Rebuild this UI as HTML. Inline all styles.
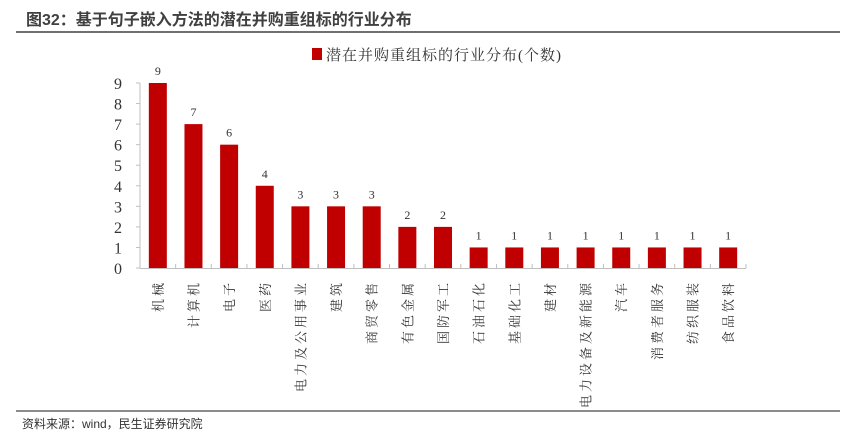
<!DOCTYPE html>
<html><head><meta charset="utf-8"><style>
body{margin:0;background:#fff;width:856px;height:433px;overflow:hidden}
svg{display:block}
</style></head><body>
<svg width="856" height="433" viewBox="0 0 856 433" xmlns="http://www.w3.org/2000/svg">
<text x="26" y="25" font-family="Liberation Sans, Noto Sans CJK SC, sans-serif" font-size="16" font-weight="bold" fill="#404040">图32：基于句子嵌入方法的潜在并购重组标的行业分布</text>
<line x1="16" y1="32" x2="840" y2="32" stroke="#404040" stroke-width="1.5"/>
<g>
<rect x="312" y="48" width="10" height="12" fill="#c00000"/>
<text x="326" y="60" font-family="Liberation Serif, Noto Serif CJK SC, serif" font-size="15" letter-spacing="1" fill="#333">潜在并购重组标的行业分布(个数)</text>
</g>
<g id="axes"></g>
<g id="bars"></g>
<line x1="16" y1="411" x2="840" y2="411" stroke="#666" stroke-width="1.5"/>
<text x="22" y="428" font-family="Liberation Sans, Noto Sans CJK SC, sans-serif" font-size="12" fill="#333">资料来源：wind，民生证券研究院</text>
</svg>
<script>
const categories=["机械","计算机","电子","医药","电力及公用事业","建筑","商贸零售","有色金属","国防军工","石油石化","基础化工","建材","电力设备及新能源","汽车","消费者服务","纺织服装","食品饮料"];
const values=[9,7,6,4,3,3,3,2,2,1,1,1,1,1,1,1,1];
const yTicks=[0,1,2,3,4,5,6,7,8,9];
const NS="http://www.w3.org/2000/svg";
const x0=140,x1=746,y0=268,yTop=83,yMax=9;
const step=(x1-x0)/categories.length;
const y=v=>y0-(y0-yTop)*v/yMax;
const xc=i=>x0+step*(i+0.5);
const ax=document.getElementById('axes'),bg=document.getElementById('bars');
function mk(tag,a,p){const e=document.createElementNS(NS,tag);for(const k in a)e.setAttribute(k,a[k]);p.appendChild(e);return e;}
const yl=mk('line',{x1:x0,y1:y(9),x2:x0,y2:y0,stroke:'#bfbfbf'},ax);


const xl=mk('line',{x1:x0,y1:y0+0.5,x2:x1,y2:y0+0.5,stroke:'#bfbfbf'},ax);


yTicks.forEach(t=>{
 const tk=mk('line',{x1:x0-4,y1:y(t),x2:x0,y2:y(t),stroke:'#bfbfbf'},ax);
 
 
 const tx=mk('text',{x:122,y:y(t)+6,'text-anchor':'end','font-family':'Liberation Serif, serif','font-size':'16',fill:'#333'},ax);
 tx.textContent=t;
 
 
});
for(let i=0;i<=categories.length;i++){
 const tk=mk('line',{x1:x0+step*i,y1:y0-4,x2:x0+step*i,y2:y0,stroke:'#bfbfbf'},ax);
 
 
}
categories.forEach((c,i)=>{
 const bw=18;
 const r=mk('rect',{x:xc(i)-bw/2,y:y(values[i]),width:bw,height:y0-y(values[i]),fill:'#c00000'},bg);
 
 
 const v=mk('text',{x:xc(i),y:y(values[i])-8,'text-anchor':'middle','font-family':'Liberation Serif, serif','font-size':'12',fill:'#333'},bg);
 v.textContent=values[i];
 
 
 const lx=xc(i)+5,ly=280;
 const t=mk('text',{x:lx,y:ly,'text-anchor':'end',transform:`rotate(-90 ${lx} ${ly})`,'font-family':'Liberation Serif, Noto Serif CJK SC, serif','font-size':'13','letter-spacing':'3',fill:'#333'},bg);
 t.textContent=c;
 
 
});
</script>
</body></html>
